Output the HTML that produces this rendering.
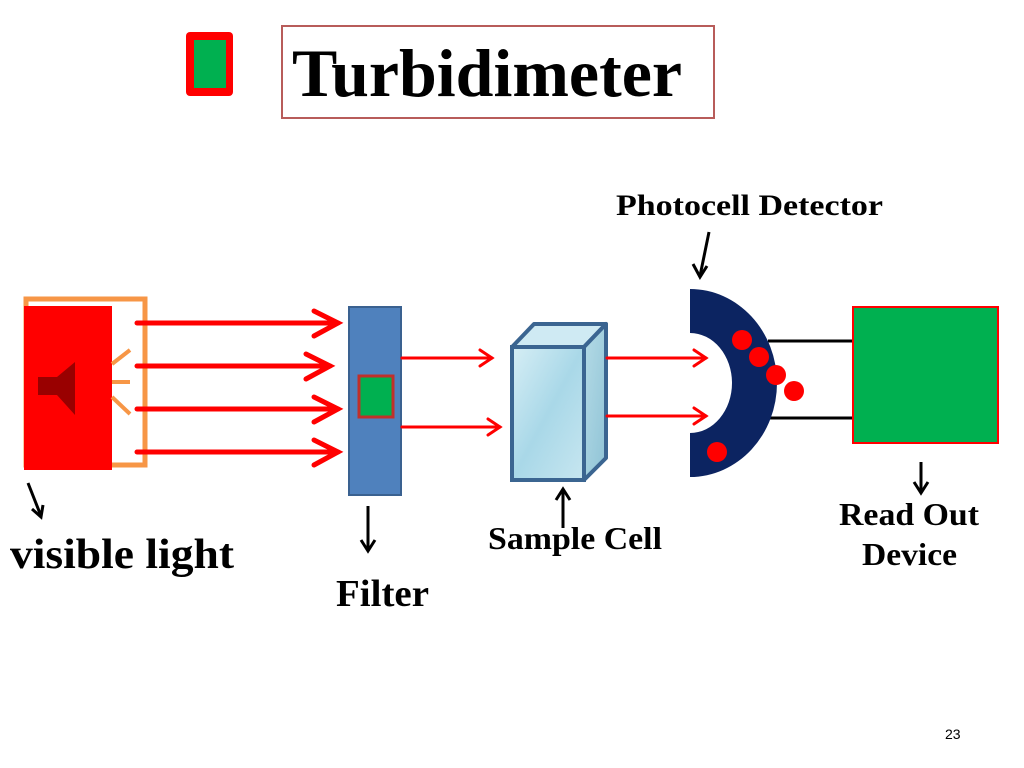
<!DOCTYPE html>
<html><head><meta charset="utf-8"><style>
html,body{margin:0;padding:0;background:#fff;}
svg{display:block;}
text{font-family:"Liberation Serif",serif;font-weight:bold;fill:#000;}
</style></head><body>
<svg width="1024" height="768" viewBox="0 0 1024 768" xmlns="http://www.w3.org/2000/svg">
<defs>
<linearGradient id="fr" x1="0" y1="0" x2="1" y2="1"><stop offset="0" stop-color="#d6eef5"/><stop offset="0.5" stop-color="#a9d8e8"/><stop offset="1" stop-color="#c7e6f0"/></linearGradient>
<linearGradient id="sd" x1="0" y1="0" x2="1" y2="1"><stop offset="0" stop-color="#b5dbe6"/><stop offset="1" stop-color="#8fc3d6"/></linearGradient>
</defs>
<!-- title -->
<rect x="186" y="32" width="47" height="64" rx="4" fill="#ff0000"/>
<rect x="194" y="40" width="32" height="48" fill="#00b050"/>
<rect x="282" y="26" width="432" height="92" fill="none" stroke="#b85c5a" stroke-width="2"/>
<text x="292" y="96" font-size="68" textLength="390" lengthAdjust="spacingAndGlyphs">Turbidimeter</text>

<!-- light source -->
<rect x="26" y="299" width="119" height="166" fill="none" stroke="#f79646" stroke-width="5"/>
<rect x="24" y="306" width="88" height="164" fill="#ff0000"/>
<rect x="38" y="377" width="20" height="18" fill="#990000"/>
<polygon points="57,377 75,362 75,415 57,395" fill="#990000"/>
<g stroke="#f79646" stroke-width="4">
<line x1="112" y1="364" x2="130" y2="350"/>
<line x1="112" y1="382" x2="130" y2="382"/>
<line x1="112" y1="397" x2="130" y2="414"/>
</g>
<g stroke="#ff0000" stroke-width="5" fill="none" stroke-linecap="round">
<line x1="137" y1="323" x2="338" y2="323"/><polyline points="314,311 338,323 314,336"/>
<line x1="137" y1="366" x2="330" y2="366"/><polyline points="306,354 330,366 306,379"/>
<line x1="137" y1="409" x2="338" y2="409"/><polyline points="314,397 338,409 314,422"/>
<line x1="137" y1="452" x2="338" y2="452"/><polyline points="314,440 338,452 314,465"/>
</g>

<!-- filter -->
<rect x="349" y="307" width="52" height="188" fill="#4f81bd" stroke="#3a6190" stroke-width="2"/>
<rect x="359" y="376" width="34" height="41" fill="#00b050" stroke="#c0302a" stroke-width="3"/>
<g stroke="#ff0000" stroke-width="3" fill="none" stroke-linecap="round">
<line x1="402" y1="358" x2="492" y2="358"/><polyline points="480,350 492,358 480,366"/>
<line x1="402" y1="427" x2="500" y2="427"/><polyline points="488,419 500,427 488,435"/>
</g>

<!-- cuboid -->
<polygon points="512,347 534,324 606,324 584,347" fill="#cfeaf3" stroke="#3b6591" stroke-width="4" stroke-linejoin="round"/>
<polygon points="584,347 606,324 606,458 584,480" fill="url(#sd)" stroke="#3b6591" stroke-width="4" stroke-linejoin="round"/>
<rect x="512" y="347" width="72" height="133" fill="url(#fr)" stroke="#3b6591" stroke-width="4"/>
<g stroke="#ff0000" stroke-width="3" fill="none" stroke-linecap="round">
<line x1="607" y1="358" x2="706" y2="358"/><polyline points="694,350 706,358 694,366"/>
<line x1="607" y1="416" x2="706" y2="416"/><polyline points="694,408 706,416 694,424"/>
</g>

<!-- detector -->
<line x1="768" y1="341" x2="853" y2="341" stroke="#000" stroke-width="3"/>
<line x1="768" y1="418" x2="853" y2="418" stroke="#000" stroke-width="3"/>
<path d="M690,289 A87,94 0 0 1 690,477 L690,433 A42,50 0 0 0 690,333 Z" fill="#0c2461"/>
<g fill="#ff0000">
<circle cx="742" cy="340" r="10"/><circle cx="759" cy="357" r="10"/>
<circle cx="776" cy="375" r="10"/><circle cx="794" cy="391" r="10"/>
<circle cx="717" cy="452" r="10"/>
</g>

<!-- readout -->
<rect x="853" y="307" width="145" height="136" fill="#00b050" stroke="#ff0000" stroke-width="2"/>

<!-- labels and pointer arrows -->
<g stroke="#000" stroke-width="3" fill="none">
<line x1="709" y1="232" x2="700" y2="276"/><polyline points="693,264 700,277 707,266"/>
<line x1="28" y1="483" x2="41" y2="516"/><polyline points="32,509 41,517 43,505"/>
<line x1="368" y1="506" x2="368" y2="550"/><polyline points="361,540 368,551 375,540"/>
<line x1="563" y1="528" x2="563" y2="490"/><polyline points="556,500 563,489 570,500"/>
<line x1="921" y1="462" x2="921" y2="492"/><polyline points="914,482 921,493 928,482"/>
</g>
<text x="616" y="215" font-size="30" textLength="267" lengthAdjust="spacingAndGlyphs">Photocell Detector</text>
<text x="10" y="568" font-size="42" textLength="224" lengthAdjust="spacingAndGlyphs">visible light</text>
<text x="336" y="606" font-size="38" textLength="93" lengthAdjust="spacingAndGlyphs">Filter</text>
<text x="488" y="549" font-size="32" textLength="174" lengthAdjust="spacingAndGlyphs">Sample Cell</text>
<text x="839" y="525" font-size="32" textLength="140" lengthAdjust="spacingAndGlyphs">Read Out</text>
<text x="862" y="565" font-size="32" textLength="95" lengthAdjust="spacingAndGlyphs">Device</text>
<text x="945" y="739" font-size="14" style="font-weight:normal;font-family:'Liberation Sans',sans-serif" fill="#888">23</text>
</svg>
</body></html>
